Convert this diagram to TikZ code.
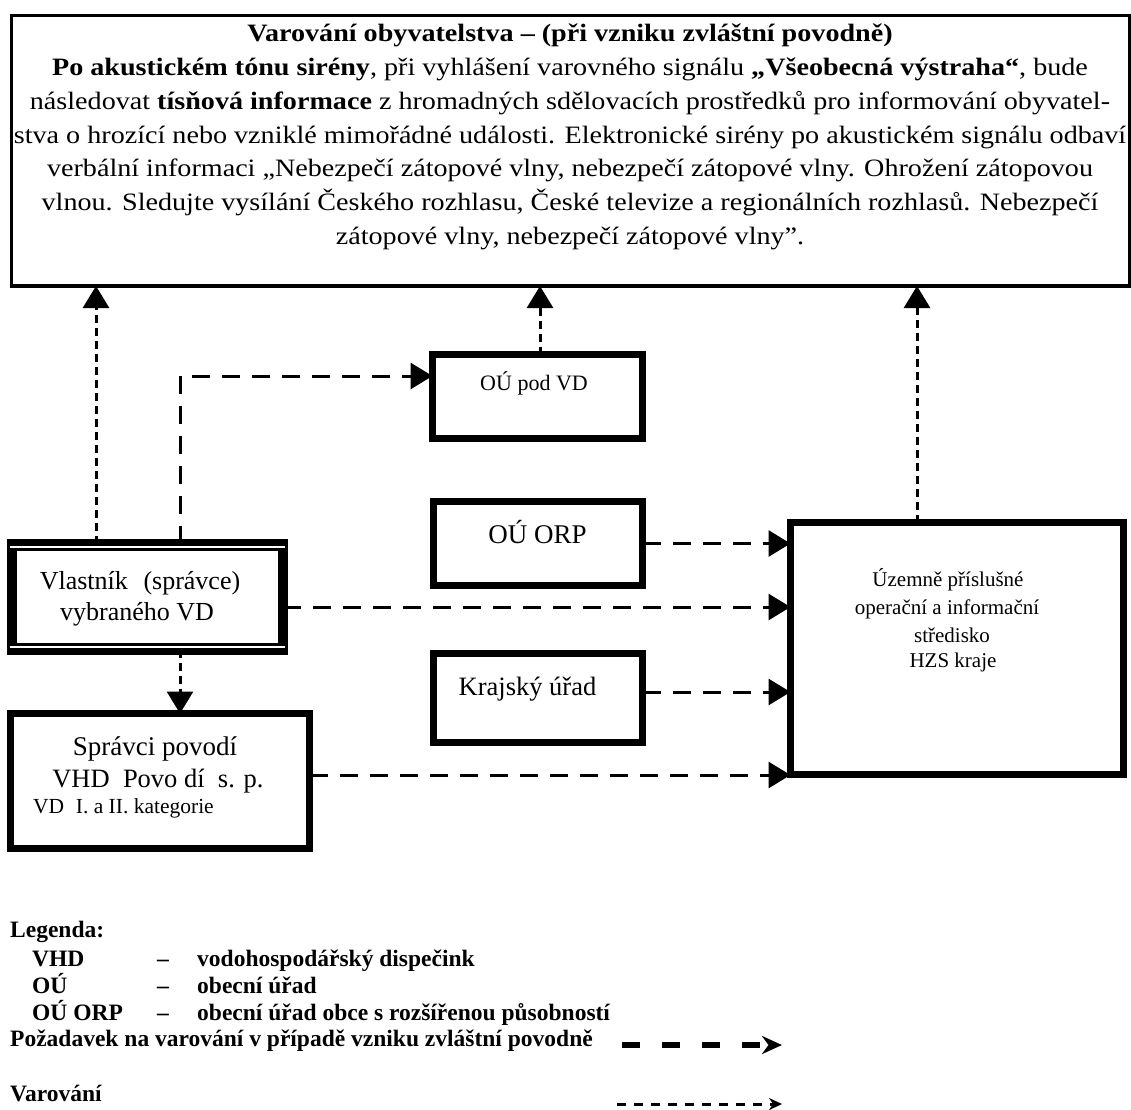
\documentclass[tikz,border=0pt]{standalone}
\usepackage{fontspec}
\setmainfont{Liberation Serif}
\newfontfamily\widefont[FakeStretch=1.125]{Liberation Serif}
\usetikzlibrary{arrows.meta}
\begin{document}
\begin{tikzpicture}[x=1pt,y=-1pt,
  box/.style={draw=black, line width=7pt, inner sep=0pt, outer sep=0pt},
  lbl/.style={inner sep=0pt, outer sep=0pt, align=center},
  req/.style={draw, line width=3pt, dash pattern=on 18pt off 12pt, -{Triangle[length=22pt,width=26pt]}},
  warn/.style={draw, line width=3pt, dash pattern=on 8pt off 5pt, -{Triangle[length=22pt,width=26pt]}},
  legtext/.style={anchor=base west, inner sep=0pt, font=\fontsize{23.5}{26}\selectfont\bfseries},
]
\useasboundingbox (0,0) rectangle (1131,1109);
\fill[white] (0,0) rectangle (1131,1109);

% top box
\node[draw, line width=3pt, minimum width=1118pt, minimum height=271pt, inner sep=0pt, outer sep=0pt] (top) at (570.5,150.5) {};
\draw[line width=4.5pt] (top.south west) -- (top.south east);
\node[lbl, font=\widefont\fontsize{25}{33.8}\selectfont] (toptext) at (570,137) {%
\textbf{Varování obyvatelstva – (při vzniku zvláštní povodně)}\\
\textbf{Po akustickém tónu sirény}, při vyhlášení varovného signálu \textbf{„Všeobecná výstraha“}, bude\\
následovat \textbf{tísňová informace} z hromadných sdělovacích prostředků pro informování obyvatel-\\
stva o hrozící nebo vzniklé mimořádné události. Elektronické sirény po akustickém signálu odbaví\\
verbální informaci „Nebezpečí zátopové vlny, nebezpečí zátopové vlny. Ohrožení zátopovou\\
vlnou. Sledujte vysílání Českého rozhlasu, České televize a regionálních rozhlasů. Nebezpečí\\
zátopové vlny, nebezpečí zátopové vlny”.};

% boxes
\node[box, minimum width=210pt, minimum height=84pt] (oupod) at (537.5,396.5) {};
\node[lbl, anchor=base, font=\fontsize{22}{26}\selectfont] (oupodt) at (534,390) {OÚ pod VD};

\node[box, minimum width=209pt, minimum height=84pt] (ouorp) at (538,543.5) {};
\node[lbl, anchor=base, font=\fontsize{27}{30}\selectfont] (ouorpt) at (537.5,543) {OÚ ORP};

\node[box, minimum width=209pt, minimum height=89pt] (kraj) at (538,698) {};
\node[lbl, anchor=base, font=\fontsize{26.5}{30}\selectfont] (krajt) at (527.5,695) {Krajský úřad};

\node[draw=black, line width=10pt, inner sep=0pt, outer sep=0pt, minimum width=271pt, minimum height=106pt] (vlast) at (147.5,597) {};
\draw[white, line width=1.3pt] ([xshift=-2pt,yshift=-3pt]vlast.north west) -- ([xshift=2pt,yshift=-3pt]vlast.north east);
\draw[white, line width=1.3pt] ([xshift=-2pt,yshift=3pt]vlast.south west) -- ([xshift=2pt,yshift=3pt]vlast.south east);
\draw[line width=2.5pt] ([xshift=4pt,yshift=-5.5pt]vlast.north west) -- ([xshift=-4pt,yshift=-5.5pt]vlast.north east);
\draw[line width=2.5pt] ([xshift=4pt,yshift=5.5pt]vlast.south west) -- ([xshift=-4pt,yshift=5.5pt]vlast.south east);
\node[lbl, anchor=base, font=\fontsize{26}{31}\selectfont] (vlastt1) at (140,589) {Vlastník\hspace{0.35em} (správce)};
\node[lbl, anchor=base, font=\fontsize{26}{31}\selectfont] (vlastt2) at (137,620) {vybraného VD};

\node[box, minimum width=299pt, minimum height=135pt] (spr) at (160,781) {};
\node[lbl, anchor=base, font=\fontsize{27}{31}\selectfont] (sprt1) at (155,755) {Správci povodí};
\node[lbl, anchor=base, font=\fontsize{26.5}{31}\selectfont] (sprt2) at (158,787) {VHD\hspace{0.5em}Povo dí\hspace{0.5em}s. p.};
\node[lbl, anchor=base west, font=\fontsize{21.5}{24}\selectfont] (sprt3) at (33,813) {VD\hspace{0.3em} I. a II. kategorie};

\node[box, minimum width=333pt, minimum height=252pt] (hzs) at (957,648.5) {};
\node[lbl, anchor=base, font=\fontsize{21}{27.5}\selectfont] (hzst) at (948,586) {Územně příslušné};
\node[lbl, anchor=base, font=\fontsize{21}{27.5}\selectfont] (hzst2) at (947,614) {operační a informační};
\node[lbl, anchor=base, font=\fontsize{21}{27.5}\selectfont] (hzst3) at (952,642) {středisko};
\node[lbl, anchor=base, font=\fontsize{21}{27.5}\selectfont] (hzst4) at (953,667) {HZS kraje};

% helper coordinates
\coordinate (xa) at (96,0);
\coordinate (bend) at (180,376);
\coordinate (xc) at (540,0);
\coordinate (xd) at (917,0);
\coordinate (y607) at (0,607);
\coordinate (y692) at (0,692);
\coordinate (y775) at (0,775);

% warning (dotted) arrows
\draw[warn] (vlast.north -| xa) -- (top.south -| xa);
\draw[warn] (oupod.north -| xc) -- (top.south -| xc);
\draw[warn] (hzs.north -| xd) -- (top.south -| xd);
\draw[warn] (vlast.south -| bend) -- (spr.north -| bend);

% request (dashed) arrows
\draw[req] (vlast.north -| bend) -- (bend) -- (oupod.west |- bend);
\draw[req] (ouorp.east) -- (hzs.west |- ouorp.east);
\draw[req] (vlast.east |- y607) -- (hzs.west |- y607);
\draw[req] (kraj.east |- y692) -- (hzs.west |- y692);
\draw[req] (spr.east |- y775) -- (hzs.west |- y775);

% legend
\node[legtext] (leg) at (10,937) {Legenda:};
\node[legtext] (l1a) at (32,966) {VHD};
\node[legtext] (l1b) at (157,966) {–};
\node[legtext] (l1c) at (197,966) {vodohospodářský dispečink};
\node[legtext] (l2a) at (32,993) {OÚ};
\node[legtext] (l2b) at (157,993) {–};
\node[legtext] (l2c) at (197,993) {obecní úřad};
\node[legtext] (l3a) at (32,1020) {OÚ ORP};
\node[legtext] (l3b) at (157,1020) {–};
\node[legtext] (l3c) at (197,1020) {obecní úřad obce s rozšířenou působností};
\node[legtext] (l4) at (10,1046) {Požadavek na varování v případě vzniku zvláštní povodně};
\node[legtext] (l5) at (10,1101) {Varování};
\coordinate (la1) at (622,1045);
\coordinate (la2) at (782,1045);
\coordinate (lb1) at (617,1104);
\coordinate (lb2) at (782,1104);
\draw[line width=5.5pt, dash pattern=on 18pt off 22pt, -{Stealth[length=20pt,width=18pt]}] (la1) -- (la2);
\draw[line width=3pt, dash pattern=on 9pt off 8pt, -{Stealth[length=13pt,width=12pt]}] (lb1) -- (lb2);
\end{tikzpicture}
\end{document}
